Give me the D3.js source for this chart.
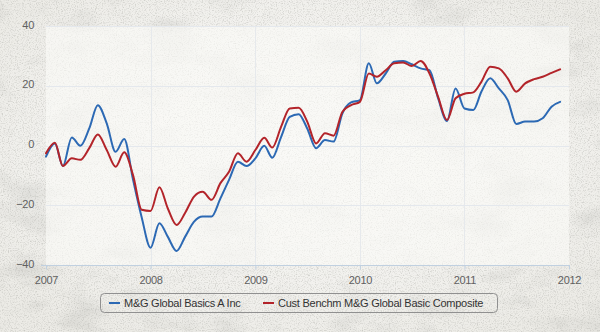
<!DOCTYPE html>
<html>
<head>
<meta charset="utf-8">
<script src="https://cdn.jsdelivr.net/npm/d3@7"></script>
<style>
  html, body { margin: 0; padding: 0; background: #efefeb; }
  svg { display: block; }
</style>
</head>
<body>
<svg id="chart" width="600" height="332"></svg>
<script>
// Monthly cumulative performance (%), Jan 2007 – Dec 2011
const fundName = "M&G Global Basics A Inc";
const benchName = "Cust Benchm M&G Global Basic Composite";
const fundValues = [
  -3.7, 0.7, -6.9, 2.7, -0.1, 5.7, 13.5, 7.4, -2.1, 2.2, -11.5, -24.0,
  -34.2, -26.0, -30.5, -35.3, -30.5, -25.5, -23.8, -23.8, -17.7, -11.5, -5.4, -6.9,
  -4.3, -0.1, -4.1, 2.9, 9.6, 10.5, 5.7, -0.9, 1.8, 1.3, 10.8, 14.4,
  15.2, 27.5, 20.8, 24.1, 28.0, 28.3, 27.2, 25.8, 25.2, 15.8, 8.2, 19.1,
  12.4, 11.9, 18.0, 22.5, 19.1, 15.2, 7.2, 8.0, 8.0, 9.1, 13.0, 14.6
];
const benchValues = [
  -2.6, 0.9, -6.9, -4.3, -4.8, -0.9, 3.7, -1.5, -7.1, -2.3, -10.0, -21.5,
  -21.9, -14.0, -21.0, -26.6, -22.5, -17.1, -15.5, -18.2, -12.6, -8.8, -2.6, -5.4,
  -1.5, 2.6, -0.7, 6.3, 12.4, 12.6, 8.0, 0.7, 4.1, 3.3, 11.3, 13.5,
  14.6, 24.1, 23.0, 25.2, 27.5, 27.8, 26.6, 28.3, 24.1, 16.3, 8.5, 15.8,
  17.3, 17.8, 21.3, 26.4, 25.8, 22.5, 18.0, 20.8, 22.2, 23.0, 24.3, 25.5
];
const yearLabels = ["2007", "2008", "2009", "2010", "2011", "2012"];
const yTicks = [-40, -20, 0, 20, 40];

const months = d3.timeMonth.range(new Date(2007, 0, 1), new Date(2012, 0, 1));

const W = 600, H = 332;
const FONT = "Liberation Sans, Arial, sans-serif";
const svg = d3.select("#chart");
const defs = svg.append("defs");

// paper grain
const grain = defs.append("filter").attr("id", "grain")
  .attr("x", 0).attr("y", 0).attr("width", "100%").attr("height", "100%");
grain.append("feTurbulence").attr("type", "fractalNoise")
  .attr("baseFrequency", 0.85).attr("numOctaves", 3).attr("seed", 7).attr("result", "n");
grain.append("feColorMatrix").attr("in", "n").attr("type", "matrix")
  .attr("values", "0 0 0 0 0.42  0 0 0 0 0.42  0 0 0 0 0.39  0 0 0 -1.2 0.64");

// soft mottling
const blotch = defs.append("filter").attr("id", "blotch")
  .attr("x", 0).attr("y", 0).attr("width", "100%").attr("height", "100%");
blotch.append("feTurbulence").attr("type", "fractalNoise")
  .attr("baseFrequency", "0.015 0.03").attr("numOctaves", 4).attr("seed", 3).attr("result", "n");
blotch.append("feColorMatrix").attr("in", "n").attr("type", "matrix")
  .attr("values", "0 0 0 0 0.5  0 0 0 0 0.5  0 0 0 0 0.47  0 0 0 -1.2 0.62");

const vign = defs.append("radialGradient").attr("id", "vign")
  .attr("cx", "50%").attr("cy", "45%").attr("r", "65%");
vign.append("stop").attr("offset", "0%").attr("stop-color", "#ffffff").attr("stop-opacity", 0.6);
vign.append("stop").attr("offset", "65%").attr("stop-color", "#ffffff").attr("stop-opacity", 0.3);
vign.append("stop").attr("offset", "100%").attr("stop-color", "#ffffff").attr("stop-opacity", 0);

svg.append("rect").attr("width", W).attr("height", H).attr("fill", "#ecebe6");
svg.append("rect").attr("width", W).attr("height", H).attr("filter", "url(#blotch)");
svg.append("rect").attr("width", W).attr("height", H).attr("fill", "url(#vign)");
svg.append("rect").attr("width", W).attr("height", H).attr("filter", "url(#grain)");

const plot = { left: 46, right: 569, top: 26, bottom: 265 };

const x = d3.scaleTime()
  .domain([new Date(2007, 0, 1), new Date(2012, 0, 1)])
  .range([plot.left, plot.right]);
const y = d3.scaleLinear().domain([-40, 40]).range([plot.bottom, plot.top]);

// plot background
svg.append("rect")
  .attr("x", plot.left).attr("y", plot.top)
  .attr("width", plot.right - plot.left).attr("height", plot.bottom - plot.top)
  .attr("fill", "#fbfbf8").attr("fill-opacity", 0.6);

const yearDates = yearLabels.map(s => new Date(+s, 0, 1));

// grid
const grid = svg.append("g");
grid.selectAll("line.v").data(yearDates.slice(1, -1)).join("line")
  .attr("x1", d => Math.round(x(d)) + 0.5).attr("x2", d => Math.round(x(d)) + 0.5)
  .attr("y1", plot.top).attr("y2", plot.bottom)
  .attr("stroke", "#e6e9ec").attr("stroke-width", 1);
grid.selectAll("line.h").data(yTicks.filter(v => v !== -40)).join("line")
  .attr("x1", plot.left).attr("x2", plot.right)
  .attr("y1", d => Math.round(y(d)) + 0.5).attr("y2", d => Math.round(y(d)) + 0.5)
  .attr("stroke", "#e4e8ed").attr("stroke-width", 1);

// x axis
const xAxis = d3.axisBottom(x)
  .tickValues(yearDates)
  .tickFormat((d, i) => yearLabels[i])
  .tickSize(4).tickPadding(7);
const gx = svg.append("g")
  .attr("transform", `translate(0,${plot.bottom + 0.5})`)
  .call(xAxis);
gx.select(".domain").attr("stroke", "#c0d0e0").attr("d", `M${plot.left - 5},0H${plot.right + 1}`);
gx.selectAll(".tick line").attr("stroke", "#c0d0e0");
gx.selectAll(".tick text")
  .attr("fill", "#606060").attr("font-family", FONT).attr("font-size", 11)
  .attr("letter-spacing", "-0.3px");

// y axis labels
const yAxis = d3.axisLeft(y).tickValues(yTicks).tickSize(0).tickPadding(12);
const gy = svg.append("g").attr("transform", `translate(${plot.left},0)`).call(yAxis);
gy.select(".domain").remove();
gy.selectAll(".tick text")
  .attr("fill", "#606060").attr("font-family", FONT).attr("font-size", 11)
  .attr("letter-spacing", "-0.3px")
  .attr("dy", "0.2em");

// series lines
const line = d3.line()
  .x((d, i) => x(months[i]))
  .y(d => y(d))
  .curve(d3.curveMonotoneX);

const series = [
  { name: fundName, values: fundValues, color: "#2c69b4" },
  { name: benchName, values: benchValues, color: "#b3242a" }
];

svg.append("g").selectAll("path").data(series).join("path")
  .attr("d", d => line(d.values))
  .attr("fill", "none")
  .attr("stroke", d => d.color)
  .attr("stroke-width", 2)
  .attr("stroke-linejoin", "round")
  .attr("stroke-linecap", "round");

// legend
const legend = svg.append("g");
legend.append("rect")
  .attr("x", 100.5).attr("y", 293.5).attr("width", 397).attr("height", 19)
  .attr("rx", 4).attr("fill", "none").attr("stroke", "#909090").attr("stroke-width", 1);
const legendX = [109, 263];
const items = legend.selectAll("g.item").data(series).join("g")
  .attr("transform", (d, i) => `translate(${legendX[i]},303)`);
items.append("line")
  .attr("x1", 0).attr("x2", 11).attr("y1", 0).attr("y2", 0)
  .attr("stroke", d => d.color).attr("stroke-width", 2);
items.append("text")
  .attr("x", 15).attr("y", 4)
  .attr("fill", "#333333")
  .attr("font-family", FONT).attr("font-size", 11)
  .attr("letter-spacing", "-0.25px")
  .text(d => d.name);
</script>
</body>
</html>
